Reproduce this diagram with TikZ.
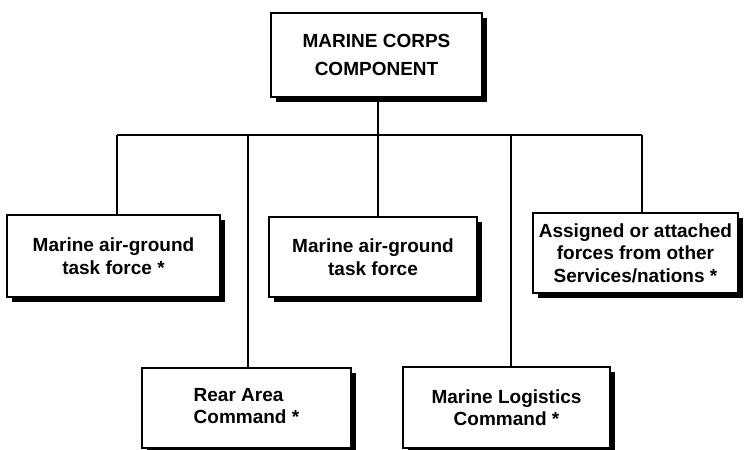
\documentclass[tikz,border=0pt]{standalone}
\usepackage{fontspec}
\setmainfont{Liberation Sans}
\usetikzlibrary{shadows}
\begin{document}
\begin{tikzpicture}[x=1pt,y=-1pt,
  orgbox/.style={draw=black, line width=1.8pt, fill=white, rectangle, inner sep=0pt,
    font=\bfseries\fontsize{19}{22.5}\selectfont, align=center,
    drop shadow={shadow xshift=5pt, shadow yshift=-5pt, fill=black, opacity=1}},
  link/.style={line width=2pt}]
\useasboundingbox (0,0) rectangle (745,450);
\node[orgbox, minimum width=211pt, minimum height=84pt, font=\bfseries\fontsize{19}{28}\selectfont] (top) at (376.5,55) {MARINE CORPS\\COMPONENT};
\node[orgbox, minimum width=213pt, minimum height=82pt] (mag1) at (113.5,256) {Marine air-ground\\task force *};
\node[orgbox, minimum width=208pt, minimum height=80pt] (mag2) at (373,257) {Marine air-ground\\task force};
\node[orgbox, minimum width=205pt, minimum height=80pt] (asg) at (635.5,253) {Assigned or attached\\forces from other\\Services/nations *};
\node[orgbox, minimum width=209pt, minimum height=80pt] (rear) at (246.5,408) {\begin{tabular}{@{}l@{}}Rear Area\\Command *\end{tabular}};
\node[orgbox, minimum width=207pt, minimum height=81pt] (log) at (506.5,407.5) {Marine Logistics\\Command *};
\coordinate (c1) at (117,135);
\coordinate (c2) at (248,135);
\coordinate (c3) at (378,135);
\coordinate (c4) at (511,135);
\coordinate (c5) at (642,135);
\draw[link] (c1) -- (c5);
\draw[link] (c3 |- top.south) -- (c3);
\draw[link] (c1) -- (c1 |- mag1.north);
\draw[link] (c2) -- (c2 |- rear.north);
\draw[link] (c3) -- (c3 |- mag2.north);
\draw[link] (c4) -- (c4 |- log.north);
\draw[link] (c5) -- (c5 |- asg.north);
\end{tikzpicture}
\end{document}
